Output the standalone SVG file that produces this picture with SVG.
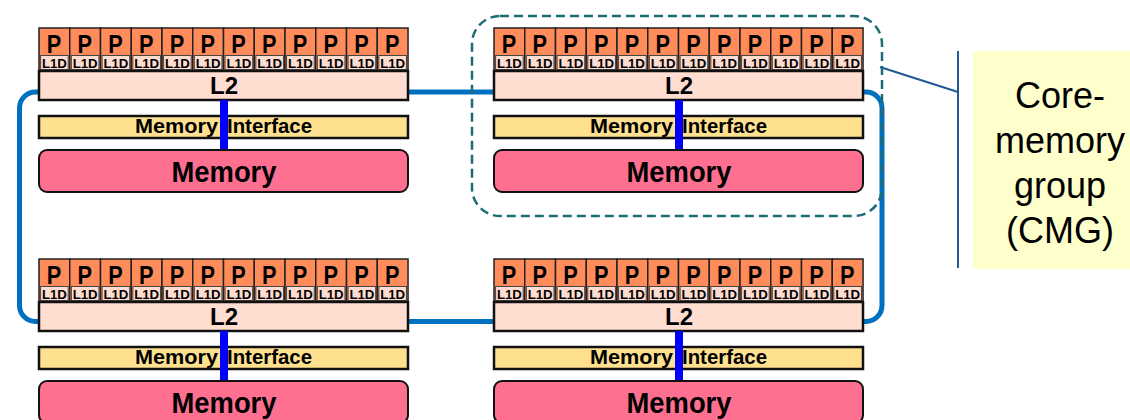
<svg xmlns="http://www.w3.org/2000/svg" xmlns:xlink="http://www.w3.org/1999/xlink" width="1130" height="420" viewBox="0 0 1130 420">
<style>
.b{font-family:"Liberation Sans",Arial,sans-serif;font-weight:bold;fill:#000;text-anchor:middle}
.mit{font-family:"Liberation Sans",Arial,sans-serif;font-weight:bold;fill:#000;font-size:19.5px}
.core{fill:#FF8C5A;stroke:#222;stroke-width:1.5}
.l1d{fill:#FFDCD0;stroke:#444;stroke-width:1}
.l2{fill:#FFDDD0;stroke:#111;stroke-width:2.5}
.mi{fill:#FFE08F;stroke:#111;stroke-width:2.5}
.mem{fill:#FF7090;stroke:#111;stroke-width:2}
.link{fill:#0000FF}
.ring{fill:none;stroke:#0070C0;stroke-width:5}
.cmg{fill:none;stroke:#1F6B75;stroke-width:2.5;stroke-dasharray:9 5}
.call{fill:none;stroke:#1F5A96;stroke-width:2}
.lbl{font-family:"Liberation Sans",Arial,sans-serif;font-size:36px;fill:#000;text-anchor:middle}
</style>
<defs>
<g id="core">
<rect class="core" x="0" y="28" width="30.8" height="43"/>
<rect class="l1d" x="1.6" y="55.5" width="27.6" height="14"/>
<text class="b" x="15" y="53" font-size="26" textLength="14.5" lengthAdjust="spacingAndGlyphs">P</text>
<text class="b" x="15.4" y="68.3" font-size="12.5" textLength="25" lengthAdjust="spacingAndGlyphs">L1D</text>
</g>
<g id="cores">
<use xlink:href="#core" x="0"/><use xlink:href="#core" x="30.75"/><use xlink:href="#core" x="61.5"/><use xlink:href="#core" x="92.25"/>
<use xlink:href="#core" x="123"/><use xlink:href="#core" x="153.75"/><use xlink:href="#core" x="184.5"/><use xlink:href="#core" x="215.25"/>
<use xlink:href="#core" x="246"/><use xlink:href="#core" x="276.75"/><use xlink:href="#core" x="307.5"/><use xlink:href="#core" x="338.25"/>
</g>
</defs>
<rect x="0" y="0" width="1130" height="420" fill="#fff"/>
<g id="connectors">
<rect class="ring" x="19.5" y="92" width="862.5" height="229.5" rx="16"/>
<line class="call" x1="880" y1="67" x2="958" y2="92"/>
<line class="call" x1="958" y1="51" x2="958" y2="268"/>
</g>
<g id="cmg-top-left" transform="translate(39,0)">
<use xlink:href="#cores"/>
<rect class="l2" x="0" y="71" width="369" height="29"/>
<text class="b" x="185" y="94" font-size="24">L2</text>
<rect class="mi" x="0" y="116" width="369" height="22"/>
<rect class="link" x="181" y="100" width="8" height="50"/>
<text class="mit" y="133"><tspan x="96" textLength="83" lengthAdjust="spacingAndGlyphs">Memory</tspan> <tspan x="188" textLength="85" lengthAdjust="spacingAndGlyphs">Interface</tspan></text>
<rect class="mem" x="0" y="150" width="369" height="42" rx="8"/>
<text class="b" x="185" y="182" font-size="29" textLength="105" lengthAdjust="spacingAndGlyphs">Memory</text>
</g>
<g id="cmg-top-right" transform="translate(494,0)">
<use xlink:href="#cores"/>
<rect class="l2" x="0" y="71" width="369" height="29"/>
<text class="b" x="185" y="94" font-size="24">L2</text>
<rect class="mi" x="0" y="116" width="369" height="22"/>
<rect class="link" x="181" y="100" width="8" height="50"/>
<text class="mit" y="133"><tspan x="96" textLength="83" lengthAdjust="spacingAndGlyphs">Memory</tspan> <tspan x="188" textLength="85" lengthAdjust="spacingAndGlyphs">Interface</tspan></text>
<rect class="mem" x="0" y="150" width="369" height="42" rx="8"/>
<text class="b" x="185" y="182" font-size="29" textLength="105" lengthAdjust="spacingAndGlyphs">Memory</text>
</g>
<g id="cmg-bottom-left" transform="translate(39,231)">
<use xlink:href="#cores"/>
<rect class="l2" x="0" y="71" width="369" height="29"/>
<text class="b" x="185" y="94" font-size="24">L2</text>
<rect class="mi" x="0" y="116" width="369" height="22"/>
<rect class="link" x="181" y="100" width="8" height="50"/>
<text class="mit" y="133"><tspan x="96" textLength="83" lengthAdjust="spacingAndGlyphs">Memory</tspan> <tspan x="188" textLength="85" lengthAdjust="spacingAndGlyphs">Interface</tspan></text>
<rect class="mem" x="0" y="150" width="369" height="42" rx="8"/>
<text class="b" x="185" y="182" font-size="29" textLength="105" lengthAdjust="spacingAndGlyphs">Memory</text>
</g>
<g id="cmg-bottom-right" transform="translate(494,231)">
<use xlink:href="#cores"/>
<rect class="l2" x="0" y="71" width="369" height="29"/>
<text class="b" x="185" y="94" font-size="24">L2</text>
<rect class="mi" x="0" y="116" width="369" height="22"/>
<rect class="link" x="181" y="100" width="8" height="50"/>
<text class="mit" y="133"><tspan x="96" textLength="83" lengthAdjust="spacingAndGlyphs">Memory</tspan> <tspan x="188" textLength="85" lengthAdjust="spacingAndGlyphs">Interface</tspan></text>
<rect class="mem" x="0" y="150" width="369" height="42" rx="8"/>
<text class="b" x="185" y="182" font-size="29" textLength="105" lengthAdjust="spacingAndGlyphs">Memory</text>
</g>
<g id="cmg-outline">
<rect class="cmg" x="472" y="16" width="410" height="200" rx="28"/>
</g>
<g id="cmg-label">
<rect x="973" y="51" width="160" height="218" fill="#FFFFCC"/>
<text class="lbl" x="1060" y="108">Core-</text>
<text class="lbl" x="1060" y="153">memory</text>
<text class="lbl" x="1060" y="198">group</text>
<text class="lbl" x="1060" y="243">(CMG)</text>
</g>
</svg>
